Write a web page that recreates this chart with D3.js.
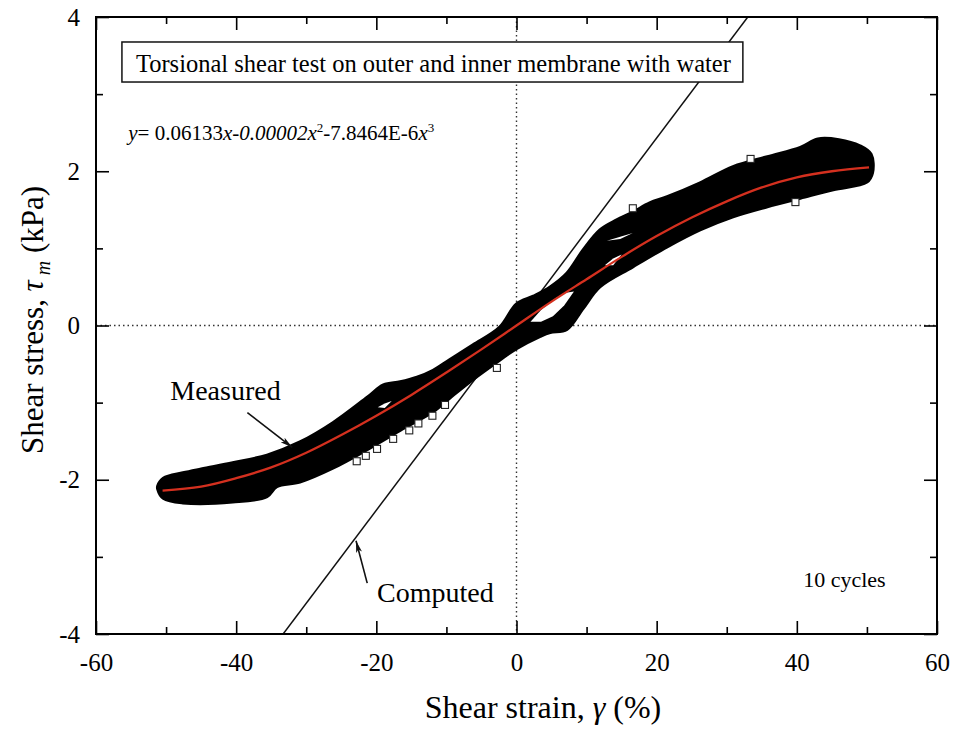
<!DOCTYPE html>
<html>
<head>
<meta charset="utf-8">
<script src="https://cdn.jsdelivr.net/npm/d3@7"></script>
<style>
  body { margin: 0; background: #fff; }
  svg { display: block; font-family: "Liberation Serif", "Times New Roman", serif; }
</style>
</head>
<body>
<div id="chart"></div>
<script>
// ticks
const xTicks = [-60, -40, -20, 0, 20, 40, 60];
const xMinor = [-50, -30, -10, 10, 30, 50];
const yTicks = [-4, -2, 0, 2, 4];
const yMinor = [-3, -1, 1, 3];

// courbe ajustée (rouge)
const fitX = [-50.5, -45, -40, -35, -30, -25, -20, -15, -10, -5, 0, 5, 10, 15, 20, 25, 30, 35, 40, 45, 50.3];
const fitY = [-2.14, -2.09, -1.98, -1.84, -1.65, -1.42, -1.17, -0.90, -0.61, -0.31, 0, 0.31, 0.60, 0.89, 1.16, 1.40, 1.61, 1.79, 1.92, 2.00, 2.05];

// bande des points mesurés (bord supérieur / inférieur)
const bandTopX = [-51.2, -50.4, -47.6, -45, -40.5, -35.6, -30.9, -26.2, -21.3, -19, -16.6, -14.2, -11.9, -9.5, -6.2, -2.4, 0, 2.4, 4.8, 7.2, 9.5, 11.9, 14.3, 16.6, 19, 21.5, 26.2, 30.9, 35.8, 40.5, 43, 46, 49, 50.6];
const bandTopY = [-2.08, -1.98, -1.91, -1.86, -1.78, -1.68, -1.51, -1.26, -0.93, -0.77, -0.73, -0.67, -0.58, -0.44, -0.25, -0.02, 0.28, 0.38, 0.50, 0.68, 0.98, 1.24, 1.37, 1.47, 1.59, 1.67, 1.85, 2.06, 2.19, 2.31, 2.42, 2.41, 2.33, 2.22];
const bandBotX = [-51.2, -50.4, -47.6, -40.5, -35.6, -34.2, -30.9, -26.2, -21.3, -16.6, -11.9, -9.5, -6.2, -2.4, 0, 3.4, 4.8, 7.2, 9.5, 11.9, 16.6, 21.5, 26.2, 30.9, 35.8, 40.5, 45.2, 50, 50.8];
const bandBotY = [-2.12, -2.24, -2.30, -2.29, -2.22, -2.09, -2.03, -1.85, -1.61, -1.36, -1.12, -0.94, -0.70, -0.45, -0.30, -0.14, -0.09, -0.05, 0.22, 0.50, 0.76, 1.02, 1.24, 1.41, 1.54, 1.65, 1.76, 1.86, 1.98];

// trous blancs dans la bande
const holeAX = [2.0, 3.5, 5.2, 6.8, 8.2];
const holeATop = [0.05, 0.20, 0.33, 0.42, 0.44];
const holeABot = [0.05, 0.05, 0.12, 0.26, 0.44];
const holeBX = [12.6, 13.8, 15];
const holeBTop = [0.78, 0.87, 0.92];
const holeBBot = [0.78, 0.78, 0.92];
const holeCX = [12.9, 14.8, 16.6];
const holeCTop = [1.10, 1.15, 1.20];
const holeCBot = [1.10, 1.12, 1.20];
const holeDX = [-19.8, -18.8, -17.8];
const holeDTop = [-1.06, -1.01, -0.98];
const holeDBot = [-1.06, -1.07, -0.98];

// carrés isolés hors de la bande
const squareX = [-22.8, -21.5, -19.9, -17.6, -15.3, -14, -12, -10.2, -2.8, 16.6, 33.4, 39.8];
const squareY = [-1.76, -1.69, -1.60, -1.47, -1.36, -1.27, -1.17, -1.03, -0.55, 1.52, 2.16, 1.60];

// droite calculée
const computedX = [-33.3, 33.0];
const computedY = [-4, 4];

const width = 960, height = 731;
const mLeft = 96, mRight = 937, mTop = 17, mBottom = 634;

const svg = d3.select("#chart").append("svg")
    .attr("width", width)
    .attr("height", height);

const x = d3.scaleLinear().domain([-60, 60]).range([mLeft, mRight]);
const y = d3.scaleLinear().domain([-4, 4]).range([mBottom, mTop]);

const defs = svg.append("defs");
defs.append("clipPath").attr("id", "plot")
    .append("rect")
    .attr("x", mLeft).attr("y", mTop)
    .attr("width", mRight - mLeft).attr("height", mBottom - mTop);

defs.append("marker")
    .attr("id", "arrow")
    .attr("viewBox", "0 0 12 6")
    .attr("refX", 12).attr("refY", 3)
    .attr("markerWidth", 12).attr("markerHeight", 6)
    .attr("markerUnits", "userSpaceOnUse")
    .attr("orient", "auto")
    .append("path")
    .attr("d", "M0,0 L12,3 L0,6 L3,3 Z")
    .attr("fill", "#111");

const plot = svg.append("g").attr("clip-path", "url(#plot)");

// lignes pointillées à zéro
plot.append("line")
    .attr("x1", x(0)).attr("x2", x(0))
    .attr("y1", y(4)).attr("y2", y(-4))
    .attr("stroke", "#333").attr("stroke-width", 1.4)
    .attr("stroke-dasharray", "1.5,3");
plot.append("line")
    .attr("x1", x(-60)).attr("x2", x(60))
    .attr("y1", y(0)).attr("y2", y(0))
    .attr("stroke", "#333").attr("stroke-width", 1.4)
    .attr("stroke-dasharray", "1.5,3");

// droite calculée
const straight = d3.line().x(d => x(d[0])).y(d => y(d[1]));
plot.append("path")
    .attr("d", straight(d3.zip(computedX, computedY)))
    .attr("fill", "none")
    .attr("stroke", "#111")
    .attr("stroke-width", 1.5);

// bande mesurée
const closed = d3.line()
    .x(d => x(d[0])).y(d => y(d[1]))
    .curve(d3.curveCatmullRomClosed.alpha(0.5));
const polygon = d3.line()
    .x(d => x(d[0])).y(d => y(d[1]))
    .curve(d3.curveLinearClosed);

function loop(xs, tops, bots) {
    const up = d3.zip(xs, tops);
    const down = d3.zip(xs, bots).reverse();
    return up.concat(down);
}

const bandPts = d3.zip(bandTopX, bandTopY).concat(d3.zip(bandBotX, bandBotY).reverse());
plot.append("path")
    .attr("d", closed(bandPts))
    .attr("fill", "#000")
    .attr("stroke", "#000")
    .attr("stroke-width", 3)
    .attr("stroke-linejoin", "round");

const holes = [
    loop(holeAX, holeATop, holeABot),
    loop(holeBX, holeBTop, holeBBot),
    loop(holeCX, holeCTop, holeCBot),
    loop(holeDX, holeDTop, holeDBot)
];
plot.append("g").selectAll("path")
    .data(holes)
    .enter()
    .append("path")
    .attr("d", d => polygon(d))
    .attr("fill", "#fff");

// carrés ouverts
plot.append("g").selectAll("rect")
    .data(d3.zip(squareX, squareY))
    .enter()
    .append("rect")
    .attr("x", d => x(d[0]) - 3.5)
    .attr("y", d => y(d[1]) - 3.5)
    .attr("width", 7).attr("height", 7)
    .attr("fill", "#fff")
    .attr("stroke", "#222")
    .attr("stroke-width", 1.1);

// courbe ajustée
plot.append("path")
    .attr("d", d3.line().x(d => x(d[0])).y(d => y(d[1])).curve(d3.curveMonotoneX)(d3.zip(fitX, fitY)))
    .attr("fill", "none")
    .attr("stroke", "#d4301f")
    .attr("stroke-width", 2.3);

// axes
function styleAxis(g) {
    g.select(".domain").remove();
    g.selectAll(".tick line").attr("stroke", "#000").attr("stroke-width", 1.6);
    g.selectAll(".tick text").attr("fill", "#000").style("font-size", "25px")
        .style("font-family", '"Liberation Serif", "Times New Roman", serif');
}
const plain = d => String(d);

svg.append("g").attr("transform", `translate(0,${mBottom})`)
    .call(d3.axisBottom(x).tickValues(xTicks).tickSize(-13).tickPadding(19).tickFormat(plain))
    .call(styleAxis);
svg.append("g").attr("transform", `translate(0,${mBottom})`)
    .call(d3.axisBottom(x).tickValues(xMinor).tickSize(-7).tickFormat(""))
    .call(styleAxis);
svg.append("g").attr("transform", `translate(0,${mTop})`)
    .call(d3.axisTop(x).tickValues(xTicks).tickSize(-13).tickFormat(""))
    .call(styleAxis);
svg.append("g").attr("transform", `translate(0,${mTop})`)
    .call(d3.axisTop(x).tickValues(xMinor).tickSize(-7).tickFormat(""))
    .call(styleAxis);

svg.append("g").attr("transform", `translate(${mLeft},0)`)
    .call(d3.axisLeft(y).tickValues(yTicks).tickSize(-13).tickPadding(16).tickFormat(plain))
    .call(styleAxis);
svg.append("g").attr("transform", `translate(${mLeft},0)`)
    .call(d3.axisLeft(y).tickValues(yMinor).tickSize(-7).tickFormat(""))
    .call(styleAxis);
svg.append("g").attr("transform", `translate(${mRight},0)`)
    .call(d3.axisRight(y).tickValues(yTicks).tickSize(-13).tickFormat(""))
    .call(styleAxis);
svg.append("g").attr("transform", `translate(${mRight},0)`)
    .call(d3.axisRight(y).tickValues(yMinor).tickSize(-7).tickFormat(""))
    .call(styleAxis);

// cadre
svg.append("rect")
    .attr("x", mLeft).attr("y", mTop)
    .attr("width", mRight - mLeft).attr("height", mBottom - mTop)
    .attr("fill", "none")
    .attr("stroke", "#000")
    .attr("stroke-width", 2);

// boîte du titre
svg.append("rect")
    .attr("x", x(-56.3)).attr("y", y(3.676))
    .attr("width", x(32.3) - x(-56.3)).attr("height", y(3.157) - y(3.676))
    .attr("fill", "#fff")
    .attr("stroke", "#111")
    .attr("stroke-width", 1.5);
svg.append("text")
    .attr("x", x(-54.3)).attr("y", y(3.29))
    .style("font-size", "24.5px")
    .text("Torsional shear test on outer and inner membrane with water");

// équation
const eq = svg.append("text")
    .attr("x", x(-55.4)).attr("y", y(2.405))
    .style("font-size", "21px");
eq.append("tspan").style("font-style", "italic").text("y");
eq.append("tspan").text("= 0.06133");
eq.append("tspan").style("font-style", "italic").text("x-0.00002x");
eq.append("tspan").attr("dy", -8).style("font-size", "13px").text("2");
eq.append("tspan").attr("dy", 8).text("-7.8464E-6");
eq.append("tspan").style("font-style", "italic").text("x");
eq.append("tspan").attr("dy", -8).style("font-size", "13px").text("3");

// annotations
svg.append("text")
    .attr("x", x(-49.4)).attr("y", y(-0.966))
    .style("font-size", "28px")
    .text("Measured");
svg.append("line")
    .attr("x1", x(-38.4)).attr("y1", y(-1.13))
    .attr("x2", x(-32.0)).attr("y2", y(-1.58))
    .attr("stroke", "#111").attr("stroke-width", 1.6)
    .attr("marker-end", "url(#arrow)");

svg.append("text")
    .attr("x", x(-19.9)).attr("y", y(-3.585))
    .style("font-size", "28px")
    .text("Computed");
svg.append("line")
    .attr("x1", x(-21.3)).attr("y1", y(-3.34))
    .attr("x2", x(-22.9)).attr("y2", y(-2.79))
    .attr("stroke", "#111").attr("stroke-width", 1.6)
    .attr("marker-end", "url(#arrow)");

svg.append("text")
    .attr("x", x(40.9)).attr("y", y(-3.39))
    .style("font-size", "22px")
    .text("10 cycles");

// titres des axes
const xt = svg.append("text")
    .attr("x", 543).attr("y", 718)
    .attr("text-anchor", "middle")
    .style("font-size", "32px");
xt.append("tspan").text("Shear strain, ");
xt.append("tspan").style("font-style", "italic").text("γ");
xt.append("tspan").text(" (%)");

const yt = svg.append("text")
    .attr("transform", "translate(43,320) rotate(-90)")
    .attr("text-anchor", "middle")
    .style("font-size", "31px");
yt.append("tspan").text("Shear stress, ");
yt.append("tspan").style("font-style", "italic").text("τ");
yt.append("tspan").attr("dy", 7).style("font-style", "italic").style("font-size", "20px").text(" m");
yt.append("tspan").attr("dy", -7).text(" (kPa)");
</script>
</body>
</html>
